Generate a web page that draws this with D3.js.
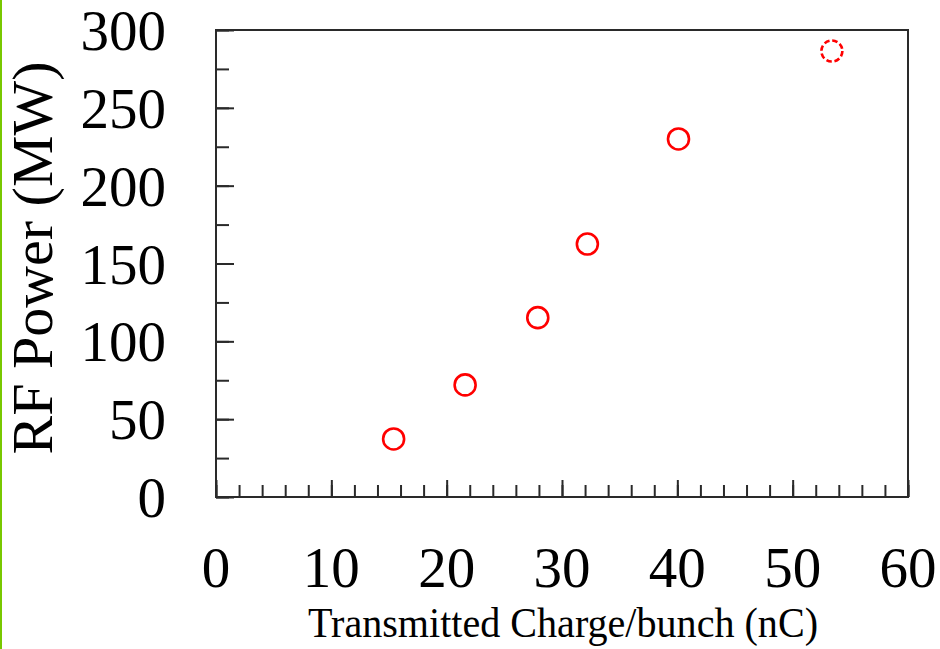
<!DOCTYPE html>
<html>
<head>
<meta charset="utf-8">
<script src="https://cdn.jsdelivr.net/npm/d3@7/dist/d3.min.js"></script>
<style>
  html, body { margin: 0; padding: 0; background: #fff; }
  svg { display: block; }
  text { font-family: "Liberation Serif", "Times New Roman", serif; fill: #000; }
</style>
</head>
<body>
<svg id="chart" width="940" height="649"></svg>
<script>
// ---- data ----
const chargeNC   = [15.4, 21.6, 27.9, 32.2, 40.1];   // solid markers (x)
const powerMW    = [37.3, 72.0, 115.2, 162.5, 230.0]; // solid markers (y)
const projChargeNC = [53.4];                          // dashed marker (x)
const projPowerMW  = [286.5];                         // dashed marker (y)
const xTickLabels = [0, 10, 20, 30, 40, 50, 60];
const yTickLabels = [0, 50, 100, 150, 200, 250, 300];
const xTitle = "Transmitted Charge/bunch (nC)";
const yTitle = "RF Power (MW)";

// ---- layout ----
const W = 940, H = 649;
const mLeft = 216, mRight = 908, mTop = 30, mBottom = 497;
const svg = d3.select("#chart");

// green slide edge
svg.append("rect").attr("x", 0).attr("y", 0).attr("width", 2).attr("height", H).attr("fill", "#78c800");

const x = d3.scaleLinear().domain([0, 60]).range([mLeft, mRight]);
const y = d3.scaleLinear().domain([0, 300]).range([mBottom, mTop]);

const axisColor = "#2a2a2a";

// frame
svg.append("rect")
  .attr("x", mLeft).attr("y", mTop)
  .attr("width", mRight - mLeft).attr("height", mBottom - mTop)
  .attr("fill", "none").attr("stroke", axisColor).attr("stroke-width", 2);

function styleAxis(g) {
  g.select(".domain").remove();
  g.selectAll(".tick line").attr("stroke", axisColor).attr("stroke-width", 2);
  g.selectAll(".tick text").remove();
}

// x minor & major ticks (inward)
svg.append("g").attr("transform", `translate(0,${mBottom})`)
  .call(d3.axisBottom(x).tickValues(d3.range(0, 61, 2)).tickSize(-12).tickFormat(""))
  .call(styleAxis);
svg.append("g").attr("transform", `translate(0,${mBottom})`)
  .call(d3.axisBottom(x).tickValues(xTickLabels).tickSize(-17).tickFormat(""))
  .call(styleAxis);

// y minor & major ticks (inward)
svg.append("g").attr("transform", `translate(${mLeft},0)`)
  .call(d3.axisLeft(y).tickValues(d3.range(0, 301, 25)).tickSize(-13).tickFormat(""))
  .call(styleAxis);
svg.append("g").attr("transform", `translate(${mLeft},0)`)
  .call(d3.axisLeft(y).tickValues(yTickLabels).tickSize(-18).tickFormat(""))
  .call(styleAxis);

// tick labels
svg.append("g").selectAll("text").data(xTickLabels).join("text")
  .attr("x", d => x(d)).attr("y", 587)
  .attr("text-anchor", "middle")
  .attr("font-size", 57)
  .text(d => d);

svg.append("g").selectAll("text").data(yTickLabels).join("text")
  .attr("x", 166).attr("y", d => y(d) + 20)
  .attr("text-anchor", "end")
  .attr("font-size", 57)
  .text(d => d);

// axis titles
svg.append("text")
  .attr("x", (308 + 818) / 2).attr("y", 637)
  .attr("text-anchor", "middle")
  .attr("font-size", 43)
  .attr("textLength", 510).attr("lengthAdjust", "spacingAndGlyphs")
  .text(xTitle);

svg.append("text")
  .attr("transform", "translate(52,258) rotate(-90)")
  .attr("text-anchor", "middle")
  .attr("font-size", 58)
  .text(yTitle);

// markers
const pts = chargeNC.map((c, i) => ({ c, p: powerMW[i] }));
svg.append("g").selectAll("circle").data(pts).join("circle")
  .attr("cx", d => x(d.c)).attr("cy", d => y(d.p)).attr("r", 10.5)
  .attr("fill", "none").attr("stroke", "#ff0000").attr("stroke-width", 2.6);

const proj = projChargeNC.map((c, i) => ({ c, p: projPowerMW[i] }));
svg.append("g").selectAll("circle").data(proj).join("circle")
  .attr("cx", d => x(d.c)).attr("cy", d => y(d.p)).attr("r", 10.5)
  .attr("fill", "none").attr("stroke", "#ff0000").attr("stroke-width", 2.6)
  .attr("stroke-dasharray", "5.5,2.75");
</script>
</body>
</html>
